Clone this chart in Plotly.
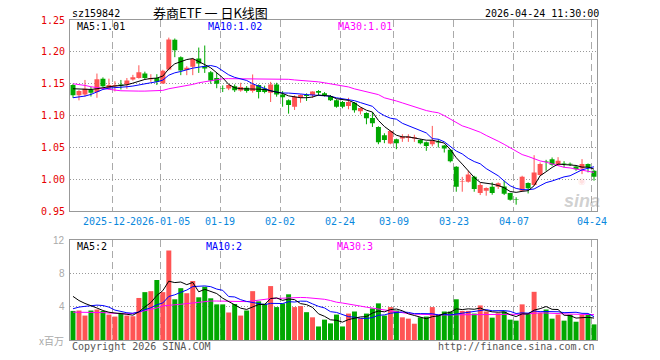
import plotly.graph_objects as go

# ---------------- data ----------------
dates = [
    "2025-12-11", "2025-12-12", "2025-12-15", "2025-12-16", "2025-12-17", "2025-12-18", "2025-12-19",
    "2025-12-22", "2025-12-23", "2025-12-24", "2025-12-25", "2025-12-26", "2025-12-29", "2025-12-30",
    "2025-12-31",
    "2026-01-05", "2026-01-06", "2026-01-07", "2026-01-08", "2026-01-09", "2026-01-12", "2026-01-13",
    "2026-01-14", "2026-01-15", "2026-01-16", "2026-01-19", "2026-01-20", "2026-01-21", "2026-01-22",
    "2026-01-23", "2026-01-26", "2026-01-27", "2026-01-28", "2026-01-29", "2026-01-30",
    "2026-02-02", "2026-02-03", "2026-02-04", "2026-02-05", "2026-02-06", "2026-02-09", "2026-02-10",
    "2026-02-11", "2026-02-12", "2026-02-13", "2026-02-24", "2026-02-25", "2026-02-26", "2026-02-27",
    "2026-03-02", "2026-03-03", "2026-03-04", "2026-03-05", "2026-03-06", "2026-03-09", "2026-03-10",
    "2026-03-11", "2026-03-12", "2026-03-13", "2026-03-16", "2026-03-17", "2026-03-18", "2026-03-19",
    "2026-03-20", "2026-03-23", "2026-03-24", "2026-03-25", "2026-03-26", "2026-03-27", "2026-03-30",
    "2026-03-31", "2026-04-01", "2026-04-02", "2026-04-03", "2026-04-07", "2026-04-08", "2026-04-09",
    "2026-04-10", "2026-04-13", "2026-04-14", "2026-04-15", "2026-04-16", "2026-04-17", "2026-04-20",
    "2026-04-21", "2026-04-22", "2026-04-23", "2026-04-24",
]

open_ = [1.148, 1.132, 1.133, 1.141, 1.137, 1.158, 1.143, 1.146, 1.149, 1.149,
         1.1568, 1.159, 1.166, 1.157, 1.159, 1.1505, 1.1724, 1.219, 1.1917, 1.1714,
         1.1765, 1.1896, 1.1776, 1.168, 1.159, 1.143, 1.1427, 1.146, 1.1396, 1.1438,
         1.1385, 1.148, 1.1427, 1.136, 1.149, 1.1333, 1.124, 1.114, 1.128, 1.1323,
         1.1323, 1.1385, 1.135, 1.1307, 1.124, 1.1214, 1.115, 1.1203, 1.1068, 1.104,
         1.0964, 1.0823, 1.0693, 1.0563, 1.063, 1.064, 1.065, 1.064, 1.062, 1.0583,
         1.0552, 1.0594, 1.0531, 1.0464, 1.0198, 0.9958, 0.9964, 1.0042, 0.9786, 0.9823,
         0.9885, 0.9885, 0.989, 0.9786, 0.9687, 0.9823, 0.9943, 0.9911, 1.0068, 1.0286,
         1.0318, 1.0234, 1.0255, 1.0245, 1.0203, 1.0172, 1.024, 1.0135]

high = [1.150, 1.140, 1.156, 1.145, 1.166, 1.160, 1.158, 1.154, 1.156, 1.159,
        1.164, 1.179, 1.169, 1.165, 1.165, 1.172, 1.2224, 1.221, 1.193, 1.1776,
        1.1906, 1.2068, 1.210, 1.170, 1.167, 1.1474, 1.149, 1.149, 1.1516, 1.1464,
        1.1646, 1.149, 1.147, 1.153, 1.1516, 1.1385, 1.1255, 1.1318, 1.1333, 1.135,
        1.138, 1.140, 1.137, 1.1323, 1.1255, 1.123, 1.128, 1.1214, 1.113, 1.1052,
        1.1057, 1.0833, 1.0724, 1.077, 1.064, 1.0708, 1.0708, 1.070, 1.063, 1.0594,
        1.0839, 1.063, 1.0542, 1.0474, 1.0208, 1.004, 1.0135, 1.0057, 0.9943, 0.9875,
        0.9953, 0.9953, 0.998, 0.979, 0.972, 1.0057, 0.9953, 1.038, 1.0266, 1.0307,
        1.0344, 1.0349, 1.0286, 1.0265, 1.0213, 1.0318, 1.025, 1.0146]

low = [1.128, 1.124, 1.130, 1.130, 1.128, 1.145, 1.141, 1.138, 1.141, 1.142,
       1.155, 1.158, 1.157, 1.153, 1.148, 1.150, 1.171, 1.1917, 1.1635, 1.1635,
       1.1635, 1.167, 1.167, 1.150, 1.143, 1.137, 1.140, 1.137, 1.1375, 1.136,
       1.136, 1.127, 1.135, 1.1214, 1.1297, 1.114, 1.1031, 1.1089, 1.1203, 1.123,
       1.128, 1.1323, 1.130, 1.123, 1.1125, 1.1115, 1.110, 1.1047, 1.102, 1.0865,
       1.0823, 1.0552, 1.0568, 1.0552, 1.0474, 1.0589, 1.0589, 1.0589, 1.055, 1.0448,
       1.052, 1.050, 1.0422, 1.0266, 0.9807, 0.9807, 0.995, 0.9807, 0.9755, 0.9745,
       0.976, 0.985, 0.9755, 0.9667, 0.9604, 0.9807, 0.978, 0.990, 1.0057, 1.0135,
       1.0213, 1.0213, 1.0188, 1.021, 1.0135, 1.0083, 1.011, 0.998]

close = [1.132, 1.1385, 1.142, 1.136, 1.157, 1.146, 1.148, 1.148, 1.147, 1.155,
         1.1604, 1.168, 1.159, 1.159, 1.153, 1.1703, 1.2193, 1.2026, 1.1708, 1.175,
         1.189, 1.1818, 1.174, 1.155, 1.150, 1.1425, 1.148, 1.140, 1.1448, 1.1385,
         1.149, 1.137, 1.137, 1.149, 1.1333, 1.129, 1.1167, 1.1297, 1.1323, 1.1307,
         1.138, 1.136, 1.132, 1.124, 1.114, 1.114, 1.1214, 1.1083, 1.112, 1.0958,
         1.088, 1.0583, 1.062, 1.076, 1.0568, 1.0672, 1.0672, 1.066, 1.0568, 1.0526,
         1.0615, 1.0578, 1.0484, 1.0286, 0.9885, 0.9966, 1.0078, 0.985, 0.9911, 0.9865,
         0.9786, 0.9938, 0.9776, 0.9682, 0.9682, 1.0042, 0.986, 1.011, 1.024, 1.028,
         1.0229, 1.0292, 1.025, 1.0235, 1.016, 1.024, 1.0188, 1.0042]

volume = [3.5, 3.55, 2.94, 3.55, 3.67, 3.5, 3.06, 2.82, 3.27, 2.94,
          2.86, 5.06, 5.76, 5.88, 7.22, 5.76, 10.78, 4.9, 6.24, 5.63,
          7.1, 5.14, 6.41, 5.02, 4.29, 4.29, 3.31, 4.33, 2.94, 3.55,
          5.88, 4.65, 4.37, 6.49, 3.96, 4.4, 5.5, 3.96, 4.08, 3.35,
          2.73, 1.63, 2.45, 2.0, 3.06, 1.63, 3.18, 3.43, 2.61, 3.18,
          3.8, 4.41, 2.94, 3.96, 3.55, 2.73, 2.57, 1.96, 2.73, 2.82,
          3.96, 3.02, 3.43, 3.43, 4.9, 3.5, 3.5, 3.18, 4.16, 3.43,
          2.69, 3.22, 3.43, 2.45, 2.33, 4.29, 3.14, 5.8, 3.27, 3.67,
          2.57, 3.06, 2.33, 3.06, 2.2, 3.02, 3.06, 1.88]

ma5 = [1.1422, 1.1417, 1.1411, 1.1411, 1.1422, 1.1443, 1.1453, 1.1464, 1.1474, 1.1484,
       1.151, 1.1542, 1.1568, 1.1583, 1.1589, 1.162, 1.1734, 1.1813, 1.1844, 1.188,
       1.1896, 1.1854, 1.180, 1.175, 1.1672, 1.1594, 1.149, 1.1437, 1.1422, 1.1422,
       1.142, 1.1415, 1.141, 1.139, 1.137, 1.1349, 1.131, 1.129, 1.1281, 1.1281,
       1.1292, 1.1323, 1.1318, 1.1307, 1.1265, 1.125, 1.124, 1.120, 1.1135, 1.1085,
       1.1057, 1.0925, 1.083, 1.076, 1.0693, 1.0667, 1.0667, 1.065, 1.0635, 1.0615,
       1.0615, 1.0595, 1.057, 1.047, 1.034, 1.024, 1.0135, 1.0031, 0.9953, 0.9943,
       0.9927, 0.9905, 0.987, 0.981, 0.9797, 0.9813, 0.9823, 0.9901, 1.0057, 1.012,
       1.0188, 1.024, 1.0235, 1.0229, 1.0219, 1.0193, 1.0193, 1.0161]

ma10 = [1.1281, 1.1292, 1.1307, 1.1333, 1.137, 1.1411, 1.1432, 1.1437, 1.1443, 1.1453,
        1.1464, 1.1484, 1.150, 1.1516, 1.1531, 1.1557, 1.1635, 1.1672, 1.1693, 1.1724,
        1.1745, 1.176, 1.1776, 1.1786, 1.1765, 1.170, 1.164, 1.160, 1.1575, 1.1552,
        1.150, 1.146, 1.1425, 1.139, 1.137, 1.1355, 1.1354, 1.135, 1.134, 1.133,
        1.1323, 1.132, 1.1313, 1.1305, 1.128, 1.1265, 1.1255, 1.1235, 1.1205, 1.117,
        1.1146, 1.1055, 1.100, 1.096, 1.0945, 1.088, 1.084, 1.080, 1.0765, 1.0729,
        1.064, 1.063, 1.059, 1.051, 1.0445, 1.040, 1.033, 1.028, 1.0245, 1.017,
        1.011, 1.0057, 0.9975, 0.990, 0.9859, 0.984, 0.9838, 0.985, 0.9901, 0.995,
        0.9975, 1.0005, 1.004, 1.0057, 1.0109, 1.015, 1.0175, 1.0198]

ma30 = [1.150, 1.149, 1.1474, 1.1453, 1.1437, 1.1427, 1.1411, 1.1401, 1.139, 1.1385,
        1.1385, 1.1385, 1.1385, 1.1385, 1.1385, 1.1396, 1.1422, 1.1437, 1.1453, 1.1474,
        1.149, 1.1516, 1.1531, 1.1557, 1.1568, 1.1578, 1.158, 1.158, 1.158, 1.158,
        1.158, 1.158, 1.158, 1.158, 1.158, 1.1575, 1.157, 1.156, 1.1555, 1.1545,
        1.1535, 1.153, 1.1515, 1.150, 1.148, 1.147, 1.145, 1.142, 1.140, 1.138,
        1.136, 1.133, 1.128, 1.126, 1.123, 1.120, 1.117, 1.114, 1.1105, 1.108,
        1.106, 1.1045, 1.100, 1.095, 1.089, 1.084, 1.081, 1.078, 1.074, 1.069,
        1.065, 1.060, 1.055, 1.050, 1.045, 1.039, 1.036, 1.032, 1.029, 1.027,
        1.024, 1.022, 1.019, 1.018, 1.016, 1.014, 1.012, 1.011]

vma5 = [5.25, 4.75, 4.4, 4.15, 3.85, 3.55, 3.34, 3.25, 3.2, 3.1,
        2.99, 3.39, 3.98, 4.5, 5.36, 5.94, 7.08, 6.91, 6.98, 6.66,
        6.93, 5.8, 6.1, 5.86, 5.59, 5.03, 4.66, 4.25, 3.83, 3.68,
        4.0, 4.27, 4.28, 4.99, 5.07, 4.77, 4.94, 4.86, 4.38, 4.26,
        3.92, 3.15, 2.85, 2.43, 2.37, 2.15, 2.46, 2.66, 2.78, 2.81,
        3.24, 3.49, 3.39, 3.66, 3.73, 3.52, 3.15, 2.95, 2.71, 2.56,
        2.81, 2.9, 3.19, 3.33, 3.75, 3.66, 3.75, 3.7, 3.85, 3.55,
        3.39, 3.34, 3.39, 3.04, 2.82, 3.14, 3.13, 3.6, 3.77, 4.03,
        3.69, 3.67, 2.98, 2.94, 2.64, 2.73, 2.73, 2.64]

vma10 = [3.76, 3.96, 4.05, 4.12, 4.2, 4.15, 3.96, 3.6, 3.4, 3.28,
         3.22, 3.37, 3.65, 3.88, 4.24, 4.46, 5.24, 5.44, 5.74, 6.01,
         6.43, 6.44, 6.51, 6.42, 6.13, 5.98, 5.23, 5.18, 4.85, 4.64,
         4.52, 4.47, 4.26, 4.41, 4.38, 4.39, 4.61, 4.57, 4.68, 4.66,
         4.35, 4.05, 3.86, 3.41, 3.32, 3.04, 2.81, 2.75, 2.61, 2.59,
         2.7, 2.98, 3.02, 3.22, 3.27, 3.38, 3.32, 3.17, 3.18, 3.15,
         3.16, 3.02, 3.07, 3.02, 3.16, 3.23, 3.33, 3.45, 3.59, 3.65,
         3.52, 3.54, 3.54, 3.45, 3.19, 3.27, 3.23, 3.49, 3.41, 3.43,
         3.42, 3.4, 3.29, 3.35, 3.34, 3.21, 3.2, 2.81]

vma30 = [3.35, 3.35, 3.35, 3.35, 3.33, 3.3, 3.25, 3.2, 3.15, 3.14,
         3.2, 3.35, 3.5, 3.65, 3.85, 4.1, 4.2, 4.24, 4.3, 4.37,
         4.5, 4.6, 4.65, 4.69, 4.69, 4.69, 4.66, 4.6, 4.6, 4.62,
         4.7, 4.8, 4.9, 4.98, 5.0, 5.05, 5.1, 5.14, 5.12, 5.1,
         5.06, 4.98, 4.9, 4.75, 4.55, 4.45, 4.3, 4.2, 4.08, 3.95,
         3.84, 3.72, 3.6, 3.45, 3.35, 3.28, 3.18, 3.12, 3.08, 3.06,
         3.05, 3.03, 3.02, 3.02, 3.02, 3.02, 3.06, 3.1, 3.08, 3.05,
         3.02, 3.02, 3.02, 3.02, 3.02, 3.1, 3.15, 3.22, 3.27, 3.25,
         3.2, 3.18, 3.15, 3.12, 3.1, 3.08, 3.06, 3.06]

price_ticks = [0.95, 1.00, 1.05, 1.10, 1.15, 1.20, 1.25]
vol_ticks = [4, 8, 12]
label_dates = ["2025-12-22", "2026-01-05", "2026-01-19", "2026-02-02", "2026-02-24",
               "2026-03-09", "2026-03-23", "2026-04-07", "2026-04-24"]
label_texts = ["2025-12-", "2026-01-05", "01-19", "02-02", "02-24",
               "03-09", "03-23", "04-07", "04-24"]

title_code = "sz159842"
title_name = "券商ETF 一 日K线图"
title_time = "2026-04-24 11:30:00"
price_ma_labels = ["MA5:1.01", "MA10:1.02", "MA30:1.01"]
vol_ma_labels = ["MA5:2", "MA10:2", "MA30:3"]

# ---------------- styling / layout helpers ----------------
RED = "#ff5454"
GREEN = "#00a800"
MONO = "DejaVu Sans Mono"
W, H = 660, 360
L, R, T, B = 70, 63, 20, 20
PW, PH = W - L - R, H - T - B


def px(x):  # pixel x -> paper
    return (x - L) / PW


def py(y):  # pixel y -> paper
    return (H - B - y) / PH


n = len(dates)
xs = list(range(n))
up = [c >= o for o, c in zip(open_, close)]
UNIT = PW / n  # pixels per bar slot

fig = go.Figure()

# candles: wicks + bodies, and volume bars
for flag, col in ((True, RED), (False, GREEN)):
    idx = [i for i in xs if up[i] == flag]
    wx, wy = [], []
    for i in idx:
        wx += [i, i, None]
        wy += [low[i], high[i], None]
    fig.add_trace(go.Scatter(x=wx, y=wy, mode="lines", line=dict(color=col, width=1),
                             xaxis="x", yaxis="y", hoverinfo="skip"))
    fig.add_trace(go.Bar(x=idx,
                         y=[max(abs(close[i] - open_[i]), 0.0007) for i in idx],
                         base=[min(open_[i], close[i]) for i in idx],
                         width=0.83, marker=dict(color=col, line=dict(width=0)),
                         xaxis="x", yaxis="y"))
    fig.add_trace(go.Bar(x=idx, y=[volume[i] for i in idx], width=0.83,
                         marker=dict(color=col, line=dict(width=0)),
                         xaxis="x2", yaxis="y2"))

for arr, col in ((ma30, "#ff00ff"), (ma10, "#0000ff"), (ma5, "#000000")):
    fig.add_trace(go.Scatter(x=xs, y=arr, mode="lines", line=dict(color=col, width=1),
                             xaxis="x", yaxis="y", hoverinfo="skip"))
for arr, col in ((vma30, "#ff00ff"), (vma10, "#0000ff"), (vma5, "#000000")):
    fig.add_trace(go.Scatter(x=xs, y=arr, mode="lines", line=dict(color=col, width=1),
                             xaxis="x2", yaxis="y2", hoverinfo="skip"))

grid_x = [dates.index(d) - 0.4 for d in label_dates]

common_x = dict(range=[-0.5, n - 0.5], tickvals=grid_x, showticklabels=False, ticks="",
                showgrid=True, gridcolor="#aaaaaa", gridwidth=1, griddash="7px,4px",
                showline=True, mirror=True, linecolor="#999999", linewidth=1, zeroline=False,
                fixedrange=True)
common_y = dict(showticklabels=False, ticks="", showgrid=True, gridcolor="#999999",
                gridwidth=1, griddash="1px,2px", showline=True, mirror=True,
                linecolor="#999999", linewidth=1, zeroline=False, fixedrange=True)

fig.update_layout(
    width=W, height=H, margin=dict(l=L, r=R, t=T, b=B),
    paper_bgcolor="white", plot_bgcolor="white", showlegend=False,
    barmode="overlay", hovermode=False,
    xaxis=dict(domain=[0, 1], anchor="y", **common_x),
    xaxis2=dict(domain=[0, 1], anchor="y2", **common_x),
    yaxis=dict(domain=[py(211.3), 1], range=[0.95, 1.25], anchor="x",
               tickvals=price_ticks[1:-1], **common_y),
    yaxis2=dict(domain=[0, py(240.3)], range=[0, 12], anchor="x2",
                tickvals=vol_ticks[:-1], **common_y),
)

ann = []
# price axis labels
for v in price_ticks:
    ann.append(dict(x=px(66.5), xref="paper", y=v, yref="y", text=f"{v:.2f}",
                    xanchor="right", yanchor="middle", showarrow=False,
                    font=dict(family=MONO, size=10, color="#e60000")))
# volume axis labels
for v in vol_ticks:
    ann.append(dict(x=px(67), xref="paper", y=v, yref="y2", text=str(v),
                    xanchor="right", yanchor="middle", showarrow=False,
                    font=dict(family="Liberation Sans", size=10, color="#aaaaaa")))
ann.append(dict(x=px(66), xref="paper", y=py(340.5), yref="paper", text="x百万",
                xanchor="right", yanchor="middle", showarrow=False,
                font=dict(family="Noto Sans CJK SC", size=10, color="#aaaaaa")))
# date labels; the first one is partly hidden by the second in the reference
for k, (d, t) in enumerate(zip(label_dates, label_texts)):
    xpos = dates.index(d) - 0.4
    if k == 0:
        ann.append(dict(x=xpos - 30.1 / UNIT, xref="x", y=py(221.5), yref="paper", text=t,
                        xanchor="left", yanchor="middle", showarrow=False, borderpad=0,
                        font=dict(family=MONO, size=10, color="#0a88dd")))
    else:
        ann.append(dict(x=xpos, xref="x", y=py(221.5), yref="paper", text=t,
                        xanchor="center", yanchor="middle", showarrow=False, borderpad=0,
                        font=dict(family=MONO, size=10, color="#0a88dd")))
# MA legends
for t, xpx, col in zip(price_ma_labels, (75, 206, 336), ("#000000", "#0000ff", "#ff00ff")):
    ann.append(dict(x=px(xpx), xref="paper", y=py(26.8), yref="paper", text=t,
                    xanchor="left", yanchor="middle", showarrow=False,
                    font=dict(family=MONO, size=10, color=col)))
for t, xpx, col in zip(vol_ma_labels, (75, 204, 335), ("#000000", "#0000ff", "#ff00ff")):
    ann.append(dict(x=px(xpx), xref="paper", y=py(246.5), yref="paper", text=t,
                    xanchor="left", yanchor="middle", showarrow=False,
                    font=dict(family=MONO, size=10, color=col)))
# header
ann.append(dict(x=px(70), xref="paper", y=py(13.3), yref="paper", text=title_code,
                xanchor="left", yanchor="middle", showarrow=False,
                font=dict(family=MONO, size=10, color="#000000")))
ann.append(dict(x=px(151), xref="paper", y=py(12.5), yref="paper", text=title_name,
                xanchor="left", yanchor="middle", showarrow=False,
                font=dict(family="Noto Sans CJK SC", size=13, color="#000000")))
ann.append(dict(x=px(601), xref="paper", y=py(13.3), yref="paper", text=title_time,
                xanchor="right", yanchor="middle", showarrow=False,
                font=dict(family=MONO, size=10, color="#000000")))
# footer
ann.append(dict(x=px(70), xref="paper", y=py(346), yref="paper", text="Copyright 2026 SINA.COM",
                xanchor="left", yanchor="middle", showarrow=False,
                font=dict(family=MONO, size=10, color="#555555")))
ann.append(dict(x=px(597), xref="paper", y=py(346), yref="paper", text="http://finance.sina.com.cn",
                xanchor="right", yanchor="middle", showarrow=False,
                font=dict(family=MONO, size=10, color="#555555")))
# sina watermark (single text block: eye logo above the word)
ann.append(dict(x=px(582), xref="paper", y=py(193), yref="paper",
                text="<span style='font-size:9px;color:rgba(255,120,120,0.5)'>◉</span><br>"
                     "<b><i>sina</i></b>",
                xanchor="center", yanchor="middle", showarrow=False, align="center",
                font=dict(family="Liberation Sans", size=18, color="rgba(150,150,150,0.45)")))

fig.update_layout(annotations=ann)

fig.write_html("out.html",
               config={"displayModeBar": False, "staticPlot": True},
               post_script="document.body.style.margin='0';document.body.style.padding='0';")
